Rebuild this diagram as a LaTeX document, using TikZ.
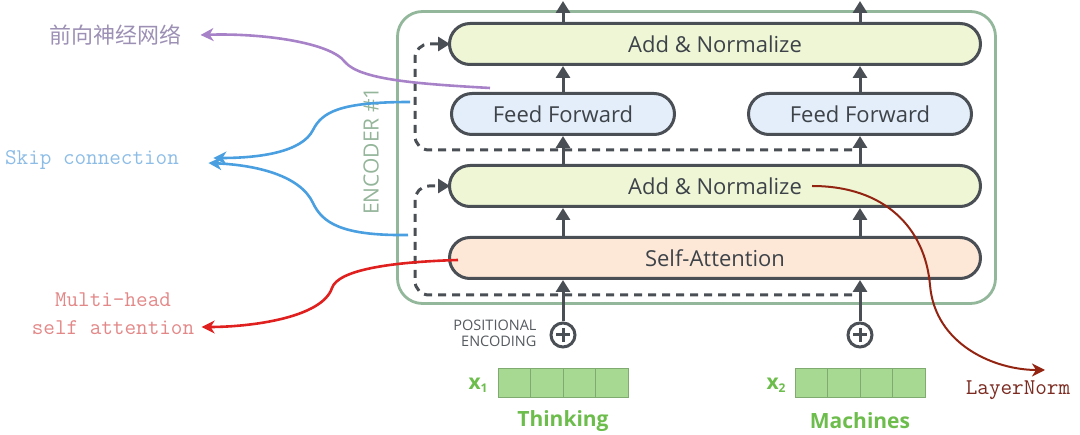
\documentclass[tikz,border=0pt]{standalone}
\usepackage{fontspec}
\setmainfont{Open Sans}
\newfontfamily\cjk{Noto Sans CJK SC}
\usetikzlibrary{arrows.meta}

\definecolor{boxline}{HTML}{4A4F55}
\definecolor{boxtext}{HTML}{3E4349}
\definecolor{anfill}{HTML}{EEF6D5}
\definecolor{fffill}{HTML}{E3EEFA}
\definecolor{safill}{HTML}{FDE8D8}
\definecolor{encline}{HTML}{93B79B}
\definecolor{enctext}{HTML}{94B59A}
\definecolor{ffnline}{HTML}{A882C8}
\definecolor{ffntext}{HTML}{9D90B5}
\definecolor{skipline}{HTML}{4A9FE0}
\definecolor{skiptext}{HTML}{8DBDE6}
\definecolor{mhline}{HTML}{E0201E}
\definecolor{mhtext}{HTML}{E38888}
\definecolor{lnline}{HTML}{942412}
\definecolor{lntext}{HTML}{7A2A20}
\definecolor{cellfill}{HTML}{A8D992}
\definecolor{cellline}{HTML}{80AB70}
\definecolor{wordgreen}{HTML}{6DBD4D}
\definecolor{postext}{HTML}{555A5F}

\tikzset{
  blk/.style={draw=boxline, line width=3pt, rounded corners=20.5pt,
    minimum height=41pt, inner sep=0pt, text=boxtext,
    font=\fontsize{22}{26}\selectfont},
  addnorm/.style={blk, fill=anfill, minimum width=531pt},
  ffbox/.style={blk, fill=fffill, minimum width=223pt},
  sabox/.style={blk, fill=safill, minimum width=531pt},
  flow/.style={draw=boxline, line width=3pt,
    -{Triangle[length=12pt,width=14pt]}},
  resid/.style={flow, dash pattern=on 8pt off 6pt, rounded corners=14pt},
  note/.style={line width=2.6pt, -{Stealth[length=13pt,width=13pt,inset=4pt]}},
  notetext/.style={font=\ttfamily\fontsize{22.5}{28}\selectfont},
  plus/.style={circle, draw=boxline, line width=3pt, minimum size=24pt,
    inner sep=0pt, path picture={
      \draw[boxline, line width=3pt]
      (path picture bounding box.center) +(-7pt,0) -- +(7pt,0)
      (path picture bounding box.center) +(0,-7pt) -- +(0,7pt);}},
  cell/.style={draw=cellline, fill=cellfill, line width=1pt,
    minimum width=32.5pt, minimum height=29pt, inner sep=0pt},
  word/.style={text=wordgreen, font=\bfseries\fontsize{21}{24}\selectfont}
}

\begin{document}
\begin{tikzpicture}[x=1pt, y=-1pt]
  \useasboundingbox (0,0) rectangle (1080,435);

  %% encoder frame
  \node[draw=encline, line width=2.8pt, rounded corners=25pt,
    minimum width=598pt, minimum height=292pt] (enc) at (696.5,157.5) {};
  \node[rotate=90, text=enctext, font=\fontsize{21}{24}\selectfont]
    (enclbl) at (371,151) {ENCODER \#1};

  %% residual paths
  \coordinate (res1) at (852,295);
  \coordinate (res2) at (852,150);
  \draw[resid] (res1) -- (415,295) -- (415,186) -- (450,186);
  \draw[resid] (res2) -- (415,150) -- (415,44) -- (450,44);

  %% blocks
  \node[addnorm] (an2) at (715,44) {Add \& Normalize};
  \node[ffbox] (ff1) at (563,114) {Feed Forward};
  \node[ffbox] (ff2) at (860,114) {Feed Forward};
  \node[addnorm] (an1) at (715,186) {Add \& Normalize};
  \node[sabox] (sa) at (715,258) {Self-Attention};

  \node[plus] (pe1) at (563,335) {};
  \node[plus] (pe2) at (860,335) {};
  \node[anchor=east, align=right, text=postext,
    font=\fontsize{14.5}{16}\selectfont] (pos) at (540,333) {POSITIONAL\\ENCODING};

  %% flow up both columns
  \foreach \f/\p in {ff1/pe1, ff2/pe2}{
    \coordinate (top-\f) at (\f |- 0,1);
    \draw[flow] (an2.north -| \f) -- (top-\f);
    \draw[flow] (\f.north) -- (an2.south -| \f);
    \draw[flow] (an1.north -| \f) -- (\f.south);
    \draw[flow] (sa.north -| \f) -- (an1.south -| \f);
    \draw[flow] (\p.north) -- (sa.south -| \p);
  }

  %% inputs
  \foreach \i in {0,...,3}{
    \node[cell] (ca\i) at (514.5+32.5*\i,383.5) {};
    \node[cell] (cb\i) at (811.5+32.5*\i,383.5) {};
  }
  \node[word] (xa) at (478,385) {x\raisebox{-3pt}{\fontsize{12}{12}\selectfont 1}};
  \node[word] (xb) at (776,385) {x\raisebox{-3pt}{\fontsize{12}{12}\selectfont 2}};
  \node[word] (wa) at (563,421) {Thinking};
  \node[word] (wb) at (860,421) {Machines};

  %% annotations
  \node[text=ffntext, font=\cjk\fontsize{22}{26}\selectfont]
    (lblffn) at (115,35) {前向神经网络};
  \node[notetext, text=skiptext] (lblskip) at (92,160) {Skip connection};
  \node[notetext, text=mhtext, align=center]
    (lblmh) at (113,314) {Multi-head\\self attention};
  \node[notetext, text=lntext] (lblln) at (1018,390) {LayerNorm};
  \coordinate (lntip) at (1045,370);

  \draw[note, ffnline] ([shift={(-73pt,4pt)}]ff1.north)
    .. controls (420,84) and (360,80) .. (345,62)
    .. controls (330,42) and (260,33) .. ([xshift=16pt]lblffn.east);
  \draw[note, skipline] ([shift={(-40pt,12pt)}]ff1.west)
    .. controls (340,102) and (322,112) .. (313,130)
    .. controls (302,152) and (260,158) .. ([shift={(31pt,2pt)}]lblskip.east);
  \draw[note, skipline] ([shift={(-40pt,23pt)}]sa.west)
    .. controls (340,236) and (322,222) .. (313,203)
    .. controls (300,175) and (255,165) .. ([shift={(26pt,-3pt)}]lblskip.east);
  \draw[note, mhline] ([shift={(10pt,-2pt)}]sa.west)
    .. controls (390,262) and (338,270) .. (332,288)
    .. controls (322,318) and (250,327) .. ([shift={(4pt,-13pt)}]lblmh.east);
  \draw[note, lnline, line width=2pt] ([xshift=97pt]an1.center)
    .. controls (885,186) and (925,228) .. (930,285)
    .. controls (935,345) and (995,370) .. (lntip);

\end{tikzpicture}
\end{document}
